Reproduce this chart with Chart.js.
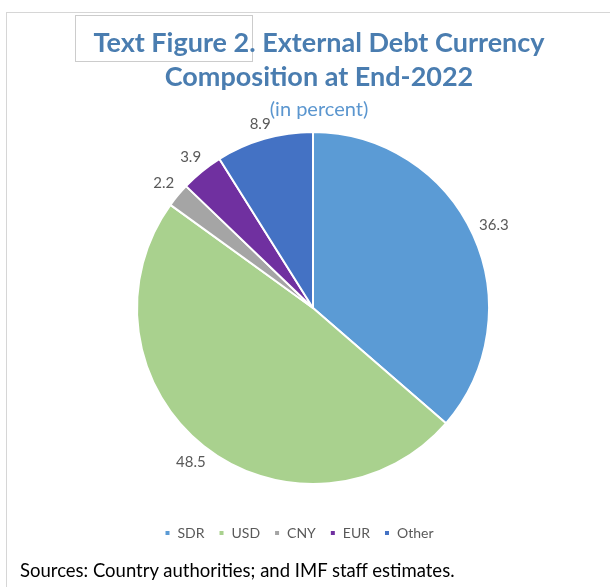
<!DOCTYPE html>
<html>
<head>
<meta charset="utf-8">
<title>External Debt Currency Composition at End-2022</title>
<script src="https://cdn.jsdelivr.net/npm/chart.js@4.4.0/dist/chart.umd.min.js"></script>
<style>
    html, body { margin: 0; padding: 0; background: #ffffff; }
    #wrap { position: relative; width: 610px; height: 587px; overflow: hidden; }
    #frame {
        position: absolute; left: 6px; top: 12px; width: 700px; height: 700px;
        border-left: 1px solid #d6d6d6; border-top: 1px solid #d6d6d6;
    }
    #tag {
        position: absolute; left: 75px; top: 15px; width: 176px; height: 45px;
        border: 1px solid #cccccc;
    }
    #chartBox { position: absolute; left: 0; top: 0; width: 610px; height: 587px; }
    #source {
        position: absolute; left: 20px; top: 560px;
        font-family: Lato, sans-serif; font-size: 18.5px; line-height: 20px; color: #000000;
        white-space: nowrap;
    }
</style>
</head>
<body>
<div id="wrap">
    <div id="frame"></div>
    <div id="tag"></div>
    <div id="chartBox"><canvas id="debtChart"></canvas></div>
    <div id="source">Sources: Country authorities; and IMF staff estimates.</div>
</div>

<script>
// Currency shares of external debt, end-2022 (percent)
var currencies = ['SDR', 'USD', 'CNY', 'EUR', 'Other'];
var shares = [36.3, 48.5, 2.2, 3.9, 8.9];
var sliceColors = ['#5b9bd5', '#a9d18e', '#a5a5a5', '#7030a0', '#4472c4'];

var titleLines = ['Text Figure 2. External Debt Currency', 'Composition at End-2022'];
var subtitleText = '(in percent)';

// Value labels placed just outside each slice
var outsideLabels = {
    id: 'outsideLabels',
    afterDatasetsDraw: function(chart) {
        var ctx = chart.ctx;
        var meta = chart.getDatasetMeta(0);
        ctx.save();
        ctx.font = '15px Lato';
        ctx.fillStyle = '#595959';
        ctx.textAlign = 'center';
        ctx.textBaseline = 'middle';
        meta.data.forEach(function(arc, i) {
            var p = arc.getProps(['x', 'y', 'startAngle', 'endAngle', 'outerRadius'], true);
            var mid = (p.startAngle + p.endAngle) / 2;
            var text = shares[i].toFixed(1);
            var w = ctx.measureText(text).width;
            var cos = Math.cos(mid), sin = Math.sin(mid);
            var d = p.outerRadius + 7 + Math.abs(cos) * w / 2 + Math.abs(sin) * 5.5;
            ctx.fillText(text, p.x + cos * d, p.y + sin * d);
        });
        ctx.restore();
    }
};

// Title block sits a little right of the pie, legend a little left (as in the original)
var nudgeBoxes = {
    id: 'nudgeBoxes',
    afterLayout: function(chart) {
        chart.boxes.forEach(function(box) {
            if (box.position === 'top') { box.left += 6; box.right += 6; }
            if (box.position === 'bottom') { box.left -= 14; box.right -= 14; }
        });
    }
};

document.addEventListener('DOMContentLoaded', function() {
    var ctx = document.getElementById('debtChart').getContext('2d');
    new Chart(ctx, {
        type: 'pie',
        data: {
            labels: currencies,
            datasets: [{
                data: shares,
                backgroundColor: sliceColors,
                borderColor: '#ffffff',
                borderWidth: 2,
                radius: 176
            }]
        },
        options: {
            responsive: true,
            maintainAspectRatio: false,
            animation: false,
            layout: { padding: { top: 0, left: 16, right: 0, bottom: 37 } },
            plugins: {
                title: {
                    display: true,
                    text: titleLines,
                    color: '#4a7db0',
                    font: { family: 'Lato', size: 27, weight: 'bold', lineHeight: 1.26 },
                    padding: { top: 26, bottom: 0 }
                },
                subtitle: {
                    display: true,
                    text: subtitleText,
                    color: '#5b96cf',
                    font: { family: 'Lato', size: 20, lineHeight: 1.1 },
                    padding: { top: 5, bottom: 11 }
                },
                legend: {
                    position: 'bottom',
                    title: { display: true, text: ' ', font: { size: 8, lineHeight: 1 }, padding: { top: 20, bottom: 0 } },
                    labels: {
                        boxWidth: 6,
                        boxHeight: 6,
                        padding: 14,
                        color: '#595959',
                        font: { family: 'Lato', size: 14 }
                    }
                },
                tooltip: { enabled: false }
            }
        },
        plugins: [outsideLabels, nudgeBoxes]
    });
});
</script>
</body>
</html>
